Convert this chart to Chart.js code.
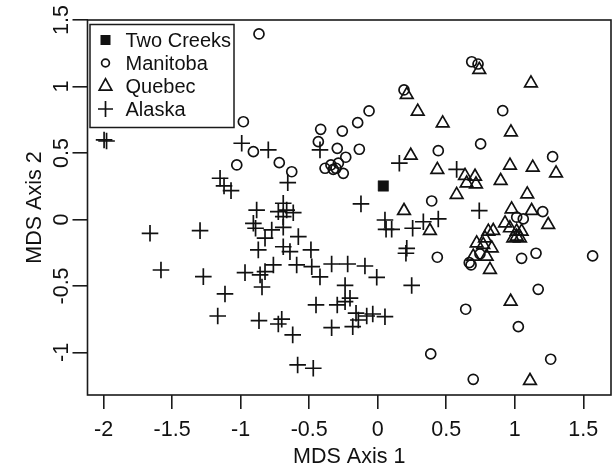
<!DOCTYPE html>
<html><head><meta charset="utf-8">
<script src="https://cdn.jsdelivr.net/npm/chart.js@4.4.0/dist/chart.umd.min.js"></script>
<style>html,body{margin:0;padding:0;background:#fff;}canvas{display:block;}</style>
</head><body>
<canvas id="c" width="613" height="468"></canvas>
<script>
const seriesNames = ['Two Creeks', 'Manitoba', 'Quebec', 'Alaska'];

const twoCreeksX = [0.041];
const twoCreeksY = [0.252];

const manitobaX = [-0.866,-0.980,0.192,-0.063,-0.146,-0.258,-0.416,-0.433,0.686,0.732,0.912,0.442,0.751,1.276,0.394,1.204,1.014,1.062,0.746,0.668,0.681,0.435,1.050,1.155,1.568,1.171,0.642,1.026,0.387,1.262,0.697,-0.907,-1.028,-0.295,-0.134,-0.233,-0.718,-0.627,-0.384,-0.341,-0.324,-0.287,-0.251,-0.304];
const manitobaY = [1.395,0.735,0.974,0.816,0.728,0.665,0.678,0.585,1.186,1.169,0.818,0.517,0.568,0.472,0.139,0.059,0.017,0.004,-0.259,-0.325,-0.342,-0.284,-0.292,-0.254,-0.274,-0.525,-0.675,-0.806,-1.011,-1.051,-1.202,0.510,0.410,0.535,0.528,0.468,0.427,0.359,0.385,0.410,0.377,0.423,0.347,0.385];

const quebecX = [0.212,0.292,0.741,1.118,0.474,0.972,0.241,0.435,0.637,0.710,0.649,0.717,0.576,0.965,1.131,1.301,0.897,1.091,0.977,1.123,1.244,0.929,0.965,1.014,1.050,1.014,1.038,0.989,0.192,0.381,0.807,0.843,0.783,0.722,0.770,0.832,0.795,0.697,0.819,0.970,1.111];
const quebecY = [0.938,0.812,1.126,1.025,0.724,0.656,0.481,0.374,0.329,0.323,0.273,0.265,0.186,0.406,0.391,0.348,0.291,0.190,0.077,0.065,-0.040,-0.028,-0.065,-0.090,-0.090,-0.128,-0.141,-0.141,0.065,-0.085,-0.090,-0.085,-0.141,-0.178,-0.190,-0.216,-0.278,-0.278,-0.378,-0.617,-1.213];

const alaskaX = [-1.996,-1.978,-0.992,-0.798,-0.421,-0.656,0.158,-0.122,0.053,0.061,0.102,0.255,0.333,0.442,0.576,0.741,0.212,0.206,0.248,-1.150,-1.121,-1.070,-0.883,-0.689,-0.725,-0.664,-0.616,-0.689,-0.907,-0.891,-0.773,-0.689,-0.822,-0.579,-0.871,-0.689,-0.640,-0.487,-0.761,-0.591,-0.481,-0.336,-0.219,-0.093,-0.822,-0.421,-0.007,-0.238,-0.844,-1.661,-1.296,-1.581,-1.272,-0.968,-1.114,-1.167,-0.866,-0.450,-0.295,-0.238,-0.202,-0.158,-0.141,-0.080,-0.036,0.053,-0.700,-0.725,-0.620,-0.336,-0.182,-0.584,-0.470,-0.858];
const alaskaY = [0.598,0.590,0.573,0.523,0.523,0.277,0.423,0.117,-0.004,-0.074,-0.074,-0.066,-0.017,0.004,0.377,0.066,-0.217,-0.254,-0.496,0.310,0.252,0.217,0.071,0.122,0.059,0.071,0.051,0.021,-0.029,-0.066,-0.079,-0.059,-0.141,-0.129,-0.229,-0.205,-0.242,-0.229,-0.342,-0.342,-0.355,-0.335,-0.335,-0.350,-0.392,-0.432,-0.435,-0.496,-0.508,-0.104,-0.084,-0.380,-0.430,-0.400,-0.560,-0.726,-0.761,-0.643,-0.643,-0.618,-0.592,-0.705,-0.756,-0.726,-0.711,-0.731,-0.750,-0.786,-0.868,-0.814,-0.806,-1.094,-1.119,-0.417];

const xTicks = [-2, -1.5, -1, -0.5, 0, 0.5, 1, 1.5];
const xTickLabels = ['-2', '-1.5', '-1', '-0.5', '0', '0.5', '1', '1.5'];
const yTicks = [-1, -0.5, 0, 0.5, 1, 1.5];
const yTickLabels = ['-1', '-0.5', '0', '0.5', '1', '1.5'];
const xTitle = 'MDS Axis 1';
const yTitle = 'MDS Axis 2';

const xMin = -2.117, xMax = 1.702, yMin = -1.320, yMax = 1.5;

const zip = (xs, ys) => xs.map((x, i) => ({x: x, y: ys[i]}));
const INK = '#111';
const AXIS_FONT = '21.5px "Liberation Sans", Arial, Helvetica, sans-serif';
const LEGEND_FONT = '20px "Liberation Sans", Arial, Helvetica, sans-serif';

const datasets = [
  {label: seriesNames[0], data: zip(twoCreeksX, twoCreeksY), pointStyle: 'rect', pointRadius: 7.4, backgroundColor: INK, borderColor: INK, borderWidth: 0.5},
  {label: seriesNames[1], data: zip(manitobaX, manitobaY), pointStyle: 'circle', pointRadius: 5, backgroundColor: 'rgba(0,0,0,0)', borderColor: INK, borderWidth: 1.7},
  {label: seriesNames[2], data: zip(quebecX, quebecY), pointStyle: 'triangle', pointRadius: 7.3, backgroundColor: 'rgba(0,0,0,0)', borderColor: INK, borderWidth: 1.7},
  {label: seriesNames[3], data: zip(alaskaX, alaskaY), pointStyle: 'cross', pointRadius: 8.3, backgroundColor: 'rgba(0,0,0,0)', borderColor: INK, borderWidth: 1.7}
];

function drawSym(ctx, kind, x, y) {
  ctx.beginPath();
  if (kind === 0) { ctx.fillRect(x - 5, y - 5, 10, 10); return; }
  if (kind === 1) { ctx.arc(x, y, 3.9, 0, Math.PI * 2); }
  if (kind === 2) { ctx.moveTo(x, y - 6.8); ctx.lineTo(x + 6.3, y + 4.6); ctx.lineTo(x - 6.3, y + 4.6); ctx.closePath(); }
  if (kind === 3) { ctx.moveTo(x - 7.5, y); ctx.lineTo(x + 7.5, y); ctx.moveTo(x, y - 8); ctx.lineTo(x, y + 8); }
  ctx.stroke();
}

const rPlot = {
  id: 'rplot',
  afterDraw(chart) {
    const ctx = chart.ctx, a = chart.chartArea, xs = chart.scales.x, ys = chart.scales.y;
    ctx.save();
    ctx.strokeStyle = '#1a1a1a'; ctx.lineWidth = 1.6;
    ctx.strokeRect(a.left, a.top, a.right - a.left, a.bottom - a.top);
    ctx.fillStyle = INK; ctx.font = AXIS_FONT; ctx.textAlign = 'center'; ctx.textBaseline = 'alphabetic';
    xTicks.forEach((v, i) => ctx.fillText(xTickLabels[i], xs.getPixelForValue(v), a.bottom + 41));
    yTicks.forEach((v, i) => {
      ctx.save(); ctx.translate(a.left - 19.5, ys.getPixelForValue(v)); ctx.rotate(-Math.PI / 2);
      ctx.fillText(yTickLabels[i], 0, 0); ctx.restore();
    });
    ctx.fillText(xTitle, (a.left + a.right) / 2, a.bottom + 68);
    ctx.save(); ctx.translate(a.left - 46.5, (a.top + a.bottom) / 2); ctx.rotate(-Math.PI / 2);
    ctx.fillText(yTitle, 0, 0); ctx.restore();
    // legend
    ctx.font = LEGEND_FONT;
    const lx = a.left + 2.5, ly = a.top + 4.5;
    ctx.lineWidth = 1.5; ctx.strokeStyle = '#1a1a1a';
    ctx.strokeRect(lx, ly, 144, 103);
    const rows = [15.5, 38.5, 61, 84.5];
    ctx.textAlign = 'left';
    ctx.lineWidth = 1.7; ctx.strokeStyle = INK;
    seriesNames.forEach((n, i) => {
      const cy = ly + rows[i];
      drawSym(ctx, i, lx + 15.5, cy);
      ctx.fillText(n, lx + 35.5, cy + 7);
    });
    ctx.restore();
  }
};

new Chart(document.getElementById('c'), {
  type: 'scatter',
  data: {datasets: datasets},
  options: {
    responsive: false, animation: false, devicePixelRatio: 1, events: [],
    layout: {autoPadding: false, padding: {top: 20, right: 2, left: 0, bottom: 0}},
    plugins: {legend: {display: false}, tooltip: {enabled: false}},
    scales: {
      x: {
        type: 'linear', position: 'bottom', min: xMin, max: xMax,
        afterBuildTicks: s => { s.ticks = xTicks.map(v => ({value: v})); },
        afterFit: s => { s.height = 73; },
        ticks: {display: false},
        grid: {drawOnChartArea: false, drawTicks: true, tickLength: 14, color: '#1a1a1a', lineWidth: 1.6},
        border: {display: false}
      },
      y: {
        type: 'linear', position: 'left', min: yMin, max: yMax,
        afterBuildTicks: s => { s.ticks = yTicks.map(v => ({value: v})); },
        afterFit: s => { s.width = 87.5; },
        ticks: {display: false},
        grid: {drawOnChartArea: false, drawTicks: true, tickLength: 15, color: '#1a1a1a', lineWidth: 1.6},
        border: {display: false}
      }
    }
  },
  plugins: [rPlot]
});
</script>
</body></html>
